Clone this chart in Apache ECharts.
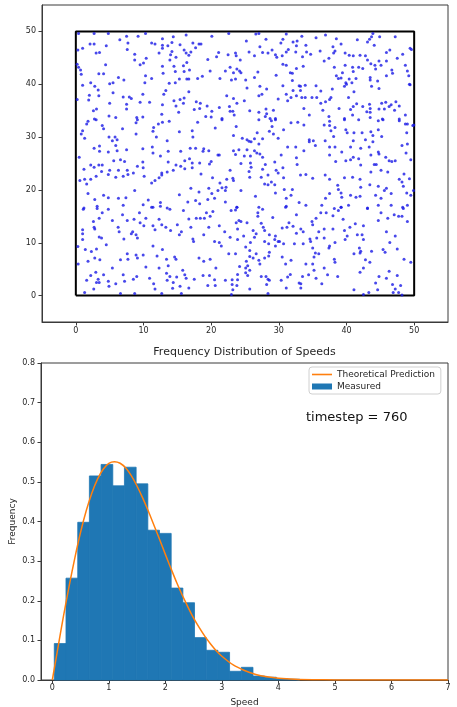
<!DOCTYPE html>
<html>
<head>
<meta charset="utf-8">
<script src="https://cdn.jsdelivr.net/npm/echarts@6/dist/echarts.min.js"></script>
<style>
html,body{margin:0;padding:0;background:#fff;}
#chart{width:457px;height:707px;}
</style>
</head>
<body>
<div id="chart"></div>
<script>
// ---------- Data ----------
// particle positions (x, y)
const particles = [
[0.4,49.6],[2.7,49.6],[4.8,49.6],[7.5,49.1],[9.2,49.1],[10.3,49.6],[12.8,48.6],[14.4,49.0],[16.3,49.3],[2.1,47.6],[2.7,47.6],[4.5,47.3],[6.5,48.4],[7.7,47.8],[7.6,46.6],[11.2,47.8],[11.7,47.6],[12.8,47.4],[14.2,47.9],[13.6,47.3],[15.4,47.5],[16.0,46.5],[0.3,46.5],[1.0,46.8],[3.0,45.9],[3.5,46.0],[8.7,45.7],[8.7,44.6],[10.4,44.9],[12.3,45.9],[12.8,46.8],[14.2,46.2],[14.0,45.6],[13.9,44.6],[14.8,45.1],[16.3,45.9],[0.2,43.8],[0.4,43.2],[0.7,42.7],[0.8,41.9],[4.4,43.7],[9.5,43.7],[10.0,44.0],[12.8,43.4],[14.5,43.4],[16.4,44.1],[15.9,43.5],[3.4,42.0],[4.1,42.0],[6.3,41.3],[7.1,40.8],[10.3,41.6],[11.2,41.1],[12.9,42.1],[14.7,42.4],[16.0,42.4],[1.0,39.8],[2.2,40.3],[2.8,39.6],[3.3,38.9],[5.0,40.1],[5.5,40.3],[10.2,40.3],[13.8,40.2],[14.7,40.3],[15.3,41.0],[16.4,41.0],[2.0,37.9],[3.4,37.8],[5.5,38.4],[7.0,37.6],[7.9,37.6],[8.2,37.3],[9.9,38.1],[10.9,36.6],[13.0,38.1],[13.3,38.8],[14.5,36.9],[15.4,37.1],[16.0,37.4],[0.2,37.1],[1.9,37.0],[3.05,35.3],[2.6,35.0],[5.0,36.4],[7.5,36.2],[7.5,35.3],[9.5,36.6],[12.8,36.1],[14.8,35.9],[15.9,36.4],[2.75,33.4],[4.9,34.0],[5.9,33.7],[9.0,33.7],[9.9,33.8],[12.7,34.3],[15.2,34.7],
[20.1,49.1],[22.6,49.6],[26.6,49.5],[27.05,49.6],[31.1,49.5],[17.3,47.8],[18.2,47.6],[18.5,47.6],[25.2,48.2],[28.1,48.5],[30.6,48.5],[30.3,47.8],[32.1,48.0],[32.7,48.2],[17.7,46.9],[17.0,46.1],[16.7,45.5],[19.5,44.7],[21.1,46.0],[20.8,45.2],[22.5,45.6],[23.6,45.9],[23.7,45.4],[24.3,44.6],[25.6,46.1],[26.4,45.4],[27.2,47.1],[27.6,46.0],[28.4,45.9],[29.0,46.5],[29.5,45.6],[29.7,45.1],[30.5,45.4],[31.1,46.1],[32.5,46.1],[32.6,47.3],[31.4,46.6],[16.8,42.7],[19.85,42.5],[22.1,42.5],[22.8,43.2],[23.3,42.2],[23.8,42.9],[24.2,42.5],[24.4,42.2],[23.0,40.8],[23.6,41.0],[25.1,40.8],[26.4,41.3],[26.9,42.3],[29.6,41.7],[30.6,43.8],[31.1,43.6],[31.7,42.2],[32.0,42.1],[32.0,40.7],[32.6,43.0],[16.7,41.0],[18.0,41.1],[18.7,41.5],[21.3,41.1],[25.3,39.3],[27.2,39.6],[28.2,39.1],[30.6,39.7],[32.1,38.8],[33.0,39.7],[16.7,38.6],[22.3,37.8],[23.3,37.3],[23.8,36.4],[24.9,36.9],[27.05,37.8],[27.5,38.1],[29.9,37.2],[31.1,38.1],[31.3,36.9],[31.8,37.5],[32.6,37.8],[17.8,36.7],[18.4,36.4],[18.3,35.4],[17.5,35.2],[19.4,35.9],[20.1,34.9],[21.2,35.6],[22.7,35.8],[22.8,34.9],[23.2,34.9],[25.7,35.0],[27.05,34.7],[28.1,35.3],[28.2,34.4],[29.2,35.1],[19.2,33.9],[20.0,33.8],[21.6,33.5],[23.4,34.2],[28.0,33.9],[28.7,33.5],[29.5,33.5],
[33.4,49.1],[35.5,48.8],[36.9,49.3],[38.5,48.6],[41.6,48.4],[43.1,48.0],[43.4,48.5],[43.7,49.0],[43.9,49.6],[44.9,49.0],[47.2,49.0],[34.0,47.4],[34.7,45.7],[34.1,46.1],[33.5,45.2],[36.1,46.3],[36.7,44.4],[37.4,44.9],[38.0,47.1],[38.3,46.3],[38.1,45.9],[39.2,47.6],[39.8,45.9],[40.4,45.5],[41.0,45.4],[42.0,45.5],[42.8,45.4],[43.1,44.6],[43.6,43.9],[44.1,47.4],[44.2,43.6],[44.8,44.4],[45.9,44.4],[45.9,46.0],[46.4,46.5],[47.5,44.9],[48.3,45.7],[49.4,46.8],[33.6,43.4],[38.2,43.2],[39.4,42.2],[39.8,43.6],[40.9,43.2],[41.0,42.4],[41.8,43.2],[42.4,43.0],[38.5,41.6],[38.8,41.1],[39.2,41.2],[39.9,40.3],[40.4,41.0],[40.8,40.3],[41.4,41.1],[43.5,41.3],[43.5,40.8],[44.3,42.9],[44.6,40.6],[45.1,43.6],[45.9,41.6],[46.7,42.7],[46.8,42.1],[48.7,43.6],[49.0,42.5],[49.2,41.6],[49.3,40.0],[33.2,39.6],[33.2,38.8],[33.9,39.8],[35.5,39.7],[36.2,38.7],[37.9,39.1],[39.7,39.6],[40.0,40.0],[41.1,38.6],[43.7,39.6],[44.8,39.2],[33.4,37.5],[33.9,37.5],[34.9,37.5],[35.6,37.5],[36.2,36.4],[36.9,36.7],[37.7,37.5],[37.5,37.1],[40.3,37.5],[41.5,36.3],[43.4,36.2],[45.2,36.4],[45.8,36.6],[47.3,36.7],[46.6,36.1],[33.7,35.4],[36.5,35.1],[38.9,35.4],[40.6,35.2],[41.0,35.8],[42.4,35.8],[43.0,34.8],[43.5,34.7],[43.5,35.4],[44.8,35.3],[45.6,35.3],[46.3,35.8],[47.1,35.1],[47.8,35.9],[34.5,34.2],[37.4,33.9],[39.7,33.5],[40.9,34.2],[43.5,33.7],[45.3,33.4],[47.8,33.4],[48.7,34.2],[49.6,46.6],[49.4,39.9],[49.95,32.3],
[1.6,32.5],[1.8,33.0],[3.0,33.3],[3.9,32.2],[4.1,31.6],[6.9,31.6],[8.9,32.7],[9.1,33.3],[11.5,31.8],[11.4,31.1],[12.2,32.5],[12.8,32.8],[13.8,33.0],[15.3,31.0],[1.0,31.2],[0.8,30.6],[1.3,29.8],[4.9,30.0],[5.4,29.3],[5.8,30.0],[5.9,28.4],[6.1,29.5],[8.9,30.6],[11.9,30.0],[13.5,29.3],[2.7,27.9],[3.5,28.3],[3.5,27.3],[4.8,27.2],[6.1,27.4],[7.5,27.6],[9.9,27.8],[11.3,28.1],[11.4,27.0],[13.65,27.3],[15.5,27.3],[0.5,26.2],[5.6,25.5],[6.6,25.7],[7.2,25.4],[9.9,25.3],[12.5,26.4],[13.65,25.3],[14.8,24.7],[15.5,24.5],[16.1,25.5],[1.2,23.9],[2.2,24.7],[2.7,24.3],[3.4,24.7],[3.9,24.7],[3.8,23.5],[5.0,23.7],[6.3,23.7],[7.6,23.7],[8.5,23.2],[9.1,24.5],[9.95,24.2],[12.7,23.2],[12.7,22.8],[13.5,23.4],[14.4,23.7],[16.1,24.0],[0.6,21.8],[1.3,22.0],[1.6,21.1],[2.2,22.0],[3.0,22.6],[4.8,22.9],[5.9,22.4],[7.0,22.6],[7.7,22.9],[10.1,22.6],[11.2,21.3],[11.7,21.8],[12.3,22.3],[1.8,19.3],[4.1,19.0],[4.8,18.5],[6.3,18.4],[7.4,18.5],[8.7,19.9],[10.7,18.1],[15.3,19.1],[2.8,18.2],[3.15,16.9],[1.2,16.6],[7.0,17.1],[9.95,17.2],[11.4,16.7],[12.5,17.6],[12.5,16.9],[13.5,16.6],
[18.0,32.8],[21.6,33.3],[23.7,32.0],[27.05,33.3],[28.9,33.1],[29.5,33.3],[29.0,32.0],[31.8,32.7],[32.8,32.8],[17.2,31.2],[17.3,30.0],[20.6,31.7],[23.3,30.3],[24.6,29.8],[25.3,29.5],[25.6,29.2],[25.9,29.1],[26.4,29.7],[26.8,30.8],[27.05,28.7],[27.6,29.7],[28.6,31.1],[29.2,30.6],[29.9,29.8],[30.7,31.4],[16.9,27.9],[17.7,27.9],[18.9,27.8],[18.8,27.3],[19.65,27.4],[21.0,26.6],[21.2,26.6],[23.3,27.4],[23.6,26.7],[24.1,27.6],[24.9,26.4],[25.3,27.6],[25.8,26.4],[26.4,27.4],[26.75,27.0],[27.2,26.8],[27.6,26.2],[30.35,26.6],[31.3,28.1],[32.5,28.1],[16.8,25.9],[17.2,25.1],[17.2,24.2],[18.3,25.1],[19.75,24.9],[20.0,25.4],[22.8,23.7],[24.4,25.0],[25.8,25.1],[25.9,24.3],[25.6,23.5],[27.6,23.9],[28.0,24.8],[29.4,25.3],[29.6,23.7],[29.9,23.2],[30.6,24.2],[32.7,24.8],[32.6,26.1],[18.5,23.0],[20.2,22.3],[22.3,22.0],[23.2,22.2],[23.3,21.8],[25.7,22.4],[27.4,22.4],[28.4,22.8],[28.9,21.5],[29.4,21.0],[27.9,21.1],[28.4,21.0],[21.3,21.3],[21.6,20.4],[30.7,22.3],[17.0,20.3],[18.2,19.6],[19.65,20.3],[20.1,19.3],[21.0,19.9],[22.1,19.9],[22.2,20.5],[24.4,19.9],[26.55,18.8],[29.5,19.4],[30.8,20.1],[32.0,20.1],[31.8,19.0],[16.55,17.7],[17.7,18.0],[18.3,17.4],[19.5,18.2],[20.5,18.4],[22.1,17.7],[23.8,16.7],[27.05,16.7],[31.1,18.4],[31.1,16.9],[33.0,17.6],
[33.7,32.3],[36.7,32.3],[37.5,33.0],[37.5,32.2],[38.3,31.8],[39.7,33.3],[41.8,33.3],[44.7,33.1],[45.4,33.3],[47.8,33.1],[48.7,32.5],[49.0,32.5],[49.8,32.2],[37.7,31.2],[39.9,31.4],[40.1,30.8],[41.1,30.8],[42.3,30.8],[43.6,31.0],[43.9,30.3],[44.7,31.4],[45.2,30.1],[48.9,30.8],[34.5,29.5],[34.5,29.1],[35.1,29.3],[35.4,28.4],[36.85,29.3],[37.5,28.1],[38.3,28.1],[38.1,30.1],[39.3,27.2],[40.6,28.1],[41.0,29.3],[42.1,27.9],[42.8,29.5],[43.35,28.1],[43.9,29.1],[44.7,27.2],[48.2,28.4],[49.0,28.7],[48.8,27.0],[33.7,27.4],[37.5,26.6],[38.4,25.4],[39.9,25.5],[40.6,25.7],[41.0,26.2],[41.8,25.9],[42.1,24.7],[43.6,26.6],[44.1,24.8],[44.4,24.8],[44.8,26.8],[45.8,26.2],[46.3,25.5],[47.2,25.5],[49.5,25.7],[33.2,22.8],[34.0,22.9],[35.0,22.2],[36.85,22.8],[37.5,22.0],[39.7,22.3],[40.9,22.4],[42.0,22.0],[43.6,23.4],[45.1,23.7],[46.1,23.4],[46.7,25.4],[47.8,22.0],[48.5,23.0],[49.3,22.1],[48.2,21.5],[38.7,20.9],[38.8,20.1],[39.2,19.4],[42.1,20.5],[43.45,21.0],[44.7,20.7],[45.9,20.3],[45.6,19.9],[48.4,20.7],[48.9,19.4],[49.9,19.9],[37.5,19.3],[36.9,18.4],[39.3,18.6],[40.6,19.0],[41.4,18.6],[42.0,18.8],[44.3,19.0],[45.1,18.4],[46.6,19.3],[49.5,19.0],[34.0,17.1],[36.35,17.1],[39.2,16.7],[40.3,17.1],[43.1,16.6],[44.7,17.1],[46.6,17.1],[48.3,16.7],[49.0,17.1],
[1.1,16.35],[3.15,16.5],[4.8,16.35],[3.9,15.7],[6.9,15.3],[9.4,15.7],[11.2,16.7],[13.9,16.35],[15.9,16.1],[2.6,14.0],[3.45,14.65],[5.4,14.2],[7.6,14.2],[8.6,14.45],[9.5,13.8],[10.05,13.2],[10.35,14.65],[11.4,13.2],[11.7,12.45],[12.3,14.45],[12.7,13.4],[13.3,12.95],[14.0,12.3],[15.0,13.4],[15.6,12.1],[1.0,12.45],[1.0,11.7],[2.7,12.95],[2.8,12.6],[6.25,12.95],[6.4,12.1],[7.1,10.7],[8.2,11.7],[8.4,12.1],[8.9,11.5],[9.1,10.9],[1.0,10.6],[3.45,11.1],[3.8,10.9],[4.5,9.6],[11.4,9.4],[15.3,11.5],[0.3,9.3],[1.4,8.7],[2.3,8.35],[3.05,8.8],[12.8,8.7],[1.8,6.5],[2.8,7.1],[3.55,6.8],[5.4,5.2],[6.6,6.8],[7.6,7.9],[7.7,6.9],[8.9,7.7],[9.1,7.1],[9.95,7.7],[10.35,5.4],[12.0,7.5],[12.3,5.2],[13.4,6.9],[13.65,5.65],[14.6,7.3],[14.8,6.9],[0.35,6.0],[4.1,3.95],[2.95,4.4],[2.2,3.8],[3.3,3.1],[3.45,2.5],[2.65,1.25],[3.05,2.5],[1.6,2.9],[4.8,2.7],[4.9,1.75],[5.9,2.25],[7.0,3.95],[7.2,2.7],[8.5,3.1],[9.0,3.6],[10.9,3.3],[11.5,2.25],[11.7,1.25],[13.4,4.25],[13.9,3.6],[13.5,2.9],[14.4,2.5],[14.3,1.4],[14.9,3.5],[15.8,4.8],[16.1,3.95],[16.3,3.3],[15.4,1.75],[1.3,0.6],[6.6,0.4],[8.7,0.4],[12.7,0.4],[15.6,0.4],
[19.3,15.7],[20.25,15.9],[22.95,16.1],[23.6,16.2],[23.8,16.7],[26.9,15.7],[26.9,15.0],[27.6,16.35],[31.0,16.7],[32.6,15.3],[16.7,14.5],[17.8,14.65],[18.4,14.65],[19.0,14.65],[19.85,15.0],[23.7,13.8],[24.1,14.2],[24.4,14.0],[25.3,13.8],[27.4,13.7],[27.7,12.95],[29.1,14.8],[30.5,12.8],[31.2,12.95],[31.5,13.8],[17.0,12.95],[19.65,12.95],[21.2,13.2],[22.0,12.1],[23.9,12.6],[26.2,12.3],[26.65,11.7],[26.4,11.05],[27.9,12.3],[28.6,11.5],[29.5,11.3],[30.1,10.25],[32.6,11.8],[32.1,13.1],[17.3,10.7],[17.4,10.25],[18.9,11.5],[20.5,10.25],[21.2,10.05],[21.5,9.4],[22.8,11.05],[23.9,10.6],[24.8,11.3],[25.1,9.2],[25.8,10.05],[25.7,8.55],[27.9,10.25],[28.5,9.8],[29.4,10.6],[29.9,10.25],[29.5,9.4],[30.7,9.8],[32.3,9.8],[18.2,7.1],[18.9,6.5],[19.85,6.9],[20.7,5.2],[22.6,7.9],[23.6,7.9],[24.2,5.5],[25.2,6.5],[25.4,5.65],[25.1,5.2],[25.7,7.4],[26.2,7.1],[26.65,7.9],[27.05,6.7],[27.2,6.0],[27.9,7.1],[28.5,7.5],[28.6,8.2],[30.5,7.3],[31.0,6.0],[31.8,6.7],[17.5,3.1],[18.8,3.8],[19.75,3.8],[20.5,3.0],[20.6,1.9],[22.1,2.9],[23.1,3.0],[23.9,3.0],[23.8,1.9],[23.1,2.1],[23.9,4.0],[25.1,4.3],[25.4,3.8],[25.7,4.8],[27.4,3.6],[28.1,3.6],[28.4,3.1],[28.6,2.9],[28.2,2.1],[30.35,2.9],[31.3,3.5],[31.7,4.0],[33.0,2.4],[16.7,1.45],[19.5,1.9],[23.2,1.1],[25.7,1.25],[31.1,1.45],[23.0,0.2],[28.4,0.4],
[36.2,15.7],[37.0,15.7],[38.2,16.5],[39.2,16.7],[38.8,16.1],[38.0,15.1],[43.1,16.5],[45.1,15.7],[47.05,15.3],[47.7,15.0],[48.2,15.0],[48.4,16.5],[49.0,14.0],[34.9,14.0],[35.0,13.4],[35.5,14.65],[39.5,14.45],[41.3,13.6],[40.5,12.95],[42.5,13.2],[44.7,14.2],[46.1,14.65],[45.9,12.1],[33.25,12.6],[33.6,12.1],[35.9,12.1],[36.7,12.6],[38.0,12.6],[39.7,12.3],[40.1,11.3],[41.6,11.5],[42.3,11.5],[47.2,11.3],[34.6,10.7],[34.7,10.25],[35.6,10.9],[36.7,10.9],[38.3,10.05],[39.8,10.6],[42.5,10.6],[46.4,10.05],[33.6,9.8],[35.0,9.0],[37.5,9.4],[37.4,9.0],[41.9,9.0],[42.1,8.4],[42.0,8.05],[43.7,8.4],[45.4,8.7],[45.7,8.2],[47.5,8.8],[35.4,8.05],[35.9,7.9],[35.2,7.3],[41.1,7.9],[38.2,6.9],[38.3,6.3],[42.8,6.8],[43.45,6.3],[48.5,6.9],[49.5,6.3],[34.0,6.0],[35.0,6.0],[35.2,4.8],[36.7,5.2],[42.5,5.2],[42.0,4.4],[46.3,4.6],[47.5,3.8],[33.5,3.6],[34.4,3.95],[35.5,3.3],[36.35,2.25],[37.2,3.95],[38.7,3.6],[44.3,2.4],[44.8,3.6],[45.9,3.3],[46.8,2.1],[48.0,1.9],[47.2,1.25],[47.7,0.6],[33.25,2.25],[33.25,1.45],[41.1,1.1],[42.5,0.2],[43.3,0.6],[44.6,1.1],[46.9,0.6],[48.2,0.1]
];
// container box corners
const boxCorners = [[0,0],[50,0],[50,50],[0,50],[0,0]];
const boxTicks = [0,10,20,30,40,50];

// histogram of speeds
const binEdges = [0.035,0.242,0.45,0.656,0.863,1.07,1.276,1.483,1.69,1.896,2.103,2.31,2.516,2.723,2.93,3.136,3.343,3.55,3.756,3.963,4.17,4.376];
const measured = [0.092,0.257,0.398,0.515,0.544,0.490,0.537,0.495,0.378,0.370,0.232,0.195,0.107,0.075,0.070,0.022,0.032,0.010,0.007,0.003,0.002];
// theoretical prediction curve
const curveSpeed = [0,0.1,0.2,0.3,0.4,0.5,0.6,0.7,0.8,0.9,1.0,1.1,1.2,1.3,1.4,1.5,1.6,1.7,1.8,1.9,2.0,2.1,2.2,2.3,2.4,2.5,2.6,2.7,2.8,2.9,3.0,3.2,3.4,3.6,3.8,4.0,4.3,4.6,5.0,5.5,6.0,7.0];
const curveFreq  = [0,0.082,0.163,0.239,0.309,0.373,0.427,0.472,0.507,0.532,0.547,0.551,0.547,0.535,0.515,0.489,0.459,0.426,0.390,0.354,0.317,0.281,0.246,0.214,0.184,0.156,0.132,0.110,0.091,0.074,0.060,0.038,0.024,0.014,0.008,0.0044,0.0017,0.0006,0.00013,0.00001,0,0];
const speedTicks = [0,1,2,3,4,5,6,7];
const titleText = 'Frequency Distribution of Speeds';
const timestepLabel = 'timestep = 760';

// ---------- Chart ----------
const FONT = 'DejaVu Sans';
const TXT = '#262626';
const AX = '#3a3a3a';
const chart = echarts.init(document.getElementById('chart'), null, {renderer: 'canvas'});

const histData = measured.map((h, i) => [binEdges[i], binEdges[i + 1], h]);
const curveData = curveSpeed.map((s, i) => [s, curveFreq[i]]);

const axisCommon = {
  axisLine: {show: true, onZero: false, lineStyle: {color: AX, width: 1}},
  axisTick: {show: true, length: 3.5, lineStyle: {color: AX, width: 1}},
  splitLine: {show: false},
  axisLabel: {color: TXT, fontFamily: FONT, fontSize: 8}
};

const option = {
  animation: false,
  backgroundColor: '#ffffff',
  textStyle: {fontFamily: FONT},
  title: {
    text: titleText,
    left: 244.5,
    textAlign: 'center',
    top: 347,
    padding: 0,
    textStyle: {fontFamily: FONT, fontSize: 11, fontWeight: 'normal', color: TXT}
  },
  legend: {
    orient: 'vertical',
    left: 309,
    top: 367,
    padding: [3, 6, 3, 3],
    itemGap: 3,
    itemWidth: 20,
    itemHeight: 6,
    borderColor: '#d0d0d0',
    borderWidth: 1,
    borderRadius: 3,
    backgroundColor: 'rgba(255,255,255,0.8)',
    textStyle: {fontFamily: FONT, fontSize: 9, color: TXT},
    data: [
      {name: 'Theoretical Prediction', icon: 'path://M0,0H20V1.6H0Z'},
      {name: 'Measured', icon: 'rect'}
    ]
  },
  graphic: [{
    type: 'text',
    left: 306,
    top: 411,
    style: {text: timestepLabel, fontFamily: FONT, fontSize: 13, fill: '#111'}
  }],
  grid: [
    {left: 42, top: 5, width: 406, height: 317, show: true, borderColor: AX, borderWidth: 1, backgroundColor: '#fff', containLabel: false, outerBoundsMode: 'none'},
    {left: 41, top: 363, width: 407, height: 317, show: true, borderColor: AX, borderWidth: 1, backgroundColor: '#fff', containLabel: false, outerBoundsMode: 'none'}
  ],
  xAxis: [
    Object.assign({}, axisCommon, {
      type: 'value', gridIndex: 0, min: -5, max: 55,
      axisTick: Object.assign({}, axisCommon.axisTick, {customValues: boxTicks}),
      axisLabel: Object.assign({}, axisCommon.axisLabel, {customValues: boxTicks, margin: 5})
    }),
    Object.assign({}, axisCommon, {
      type: 'value', gridIndex: 1, min: -0.2, max: 7,
      name: 'Speed', nameLocation: 'middle', nameGap: 18, nameMoveOverlap: false,
      nameTextStyle: {fontFamily: FONT, fontSize: 9, color: TXT},
      axisTick: Object.assign({}, axisCommon.axisTick, {customValues: speedTicks}),
      axisLabel: Object.assign({}, axisCommon.axisLabel, {customValues: speedTicks, margin: 4})
    })
  ],
  yAxis: [
    Object.assign({}, axisCommon, {
      type: 'value', gridIndex: 0, min: -5, max: 55,
      axisTick: Object.assign({}, axisCommon.axisTick, {customValues: boxTicks}),
      axisLabel: Object.assign({}, axisCommon.axisLabel, {customValues: boxTicks, margin: 6})
    }),
    Object.assign({}, axisCommon, {
      type: 'value', gridIndex: 1, min: 0, max: 0.8, interval: 0.1,
      name: 'Frequency', nameLocation: 'middle', nameGap: 24, nameRotate: 90, nameMoveOverlap: false,
      nameTextStyle: {fontFamily: FONT, fontSize: 9, color: TXT},
      axisLabel: Object.assign({}, axisCommon.axisLabel, {margin: 6, formatter: v => v.toFixed(1)})
    })
  ],
  series: [
    {
      name: 'box', type: 'line', xAxisIndex: 0, yAxisIndex: 0,
      data: boxCorners, symbol: 'none', silent: true,
      lineStyle: {color: '#000', width: 2}, z: 2
    },
    {
      name: 'particles', type: 'scatter', xAxisIndex: 0, yAxisIndex: 0,
      data: particles, symbolSize: 3, silent: true,
      itemStyle: {color: '#1a1ae6'}, z: 3
    },
    {
      name: 'Measured', type: 'custom', xAxisIndex: 1, yAxisIndex: 1,
      data: histData,
      encode: {x: [0, 1], y: 2},
      itemStyle: {color: '#1f77b4'},
      renderItem: function (params, api) {
        const p0 = api.coord([api.value(0), api.value(2)]);
        const p1 = api.coord([api.value(1), 0]);
        return {
          type: 'rect',
          shape: {x: p0[0], y: p0[1], width: p1[0] - p0[0], height: p1[1] - p0[1]},
          style: {fill: '#1f77b4', stroke: '#1f77b4', lineWidth: 0.8}
        };
      },
      z: 2
    },
    {
      name: 'Theoretical Prediction', type: 'line', xAxisIndex: 1, yAxisIndex: 1,
      data: curveData, symbol: 'none', smooth: 0.2,
      lineStyle: {color: '#ff7f0e', width: 1.5},
      itemStyle: {color: '#ff7f0e'}, z: 4
    }
  ]
};
chart.setOption(option);
</script>
</body>
</html>
